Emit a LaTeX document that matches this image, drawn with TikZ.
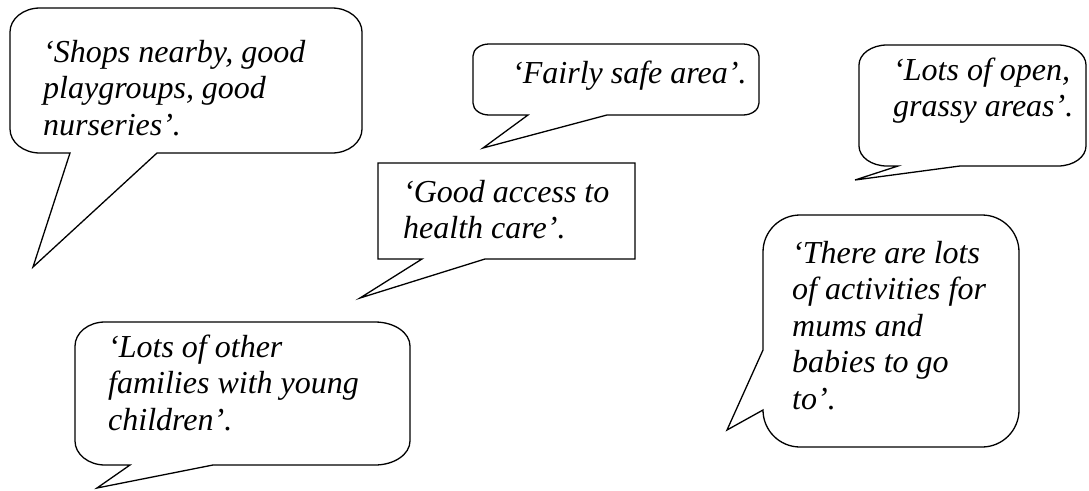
\documentclass[tikz,border=0pt]{standalone}
\usepackage{fontspec}
\setmainfont{Liberation Serif}
\begin{document}
\begin{tikzpicture}[x=1pt,y=-1pt,
  bubble/.style={draw=black,line width=1.3pt,line join=miter,fill=white},
  quote/.style={anchor=base west,inner sep=0pt,font=\fontsize{32}{36.5}\selectfont\itshape}]
\useasboundingbox (0,0) rectangle (1089,490);
% Callout 1
\draw[bubble] (40,8) -- (332,8) arc[start angle=270,end angle=360,x radius=30,y radius=24]
  -- (362,129) arc[start angle=0,end angle=90,x radius=30,y radius=24]
  -- (157,153) -- (33,267) -- (70,153) -- (40,153)
  arc[start angle=90,end angle=180,x radius=30,y radius=24]
  -- (10,32) arc[start angle=180,end angle=270,x radius=30,y radius=24] -- cycle;
\node[quote] (t1) at (43,62) {\vtop{\hbox{‘Shops nearby, good}\hbox{playgroups, good}\hbox{nurseries’.}}};
% Callout 2
\draw[bubble] (489,44) -- (743,44) arc[start angle=270,end angle=360,x radius=16,y radius=12]
  -- (759,103) arc[start angle=0,end angle=90,x radius=16,y radius=12]
  -- (607,115) -- (483,148) -- (528,115) -- (489,115)
  arc[start angle=90,end angle=180,x radius=16,y radius=12]
  -- (473,56) arc[start angle=180,end angle=270,x radius=16,y radius=12] -- cycle;
\node[quote] (t2) at (512,83) {‘Fairly safe area’.};
% Callout 3
\draw[bubble] (378,163) -- (635,163) -- (635,259) -- (485,259) -- (360,298) -- (422,259) -- (378,259) -- cycle;
\node[quote] (t3) at (403,202) {\vtop{\hbox{‘Good access to}\hbox{health care’.}}};
% Callout 4
\draw[bubble] (887,45) -- (1058,45) arc[start angle=270,end angle=360,x radius=28,y radius=20]
  -- (1086,146) arc[start angle=0,end angle=90,x radius=28,y radius=20]
  -- (960,166) -- (855,180) -- (898,166) -- (887,166)
  arc[start angle=90,end angle=180,x radius=28,y radius=20]
  -- (859,65) arc[start angle=180,end angle=270,x radius=28,y radius=20] -- cycle;
\node[quote] (t4) at (893,80) {\vtop{\hbox{‘Lots of open,}\hbox{grassy areas’.}}};
% Callout 5
\draw[bubble] (800,215) -- (982,215) arc[start angle=270,end angle=360,x radius=37,y radius=37]
  -- (1019,410) arc[start angle=0,end angle=90,x radius=37,y radius=37]
  -- (800,447) arc[start angle=90,end angle=180,x radius=37,y radius=37]
  -- (727,430) -- (763,350)
  -- (763,252) arc[start angle=180,end angle=270,x radius=37,y radius=37] -- cycle;
\node[quote] (t5) at (792,263) {\vtop{\hbox{‘There are lots}\hbox{of activities for}\hbox{mums and}\hbox{babies to go}\hbox{to’.}}};
% Callout 6
\draw[bubble] (105,322) -- (375,322) arc[start angle=270,end angle=360,x radius=35,y radius=24]
  -- (410,441) arc[start angle=0,end angle=90,x radius=35,y radius=24]
  -- (213,465) -- (97,488) -- (130,465) -- (105,465)
  arc[start angle=90,end angle=180,x radius=30,y radius=24]
  -- (75,346) arc[start angle=180,end angle=270,x radius=30,y radius=24] -- cycle;
\node[quote] (t6) at (108,357) {\vtop{\hbox{‘Lots of other}\hbox{families with young}\hbox{children’.}}};
\end{tikzpicture}
\end{document}
